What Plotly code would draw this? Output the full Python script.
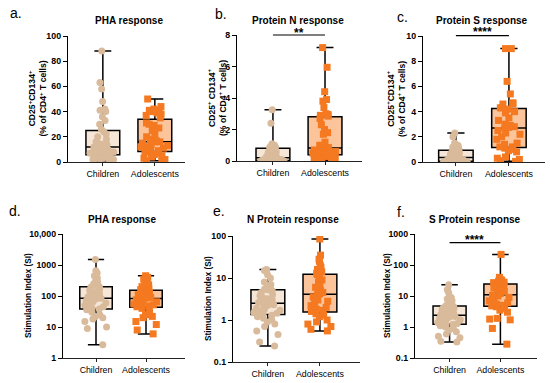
import numpy as np
import plotly.graph_objects as go

# ---------------- data ----------------
groups = ["Children", "Adolescents"]

# a. PHA response, CD25+CD134+ (% of CD4+ T cells)
a_children = [88, 63, 58, 48, 42, 41, 40, 36, 33, 30, 26, 24, 22, 20, 18, 16, 15, 14, 14, 13, 13, 12,
              12, 11, 10, 10, 9, 9, 8, 8, 7, 7, 6, 6, 5.5, 5, 5, 3.5, 3, 3, 2.5, 2, 2, 1.5, 1]
a_adolescents = [50, 44, 42, 41, 41, 40, 39, 38, 37, 35, 31, 30, 29, 27, 25, 22, 20, 18, 17, 16,
                 16, 15, 15, 14, 13, 12, 12, 11, 10, 9, 8, 8, 7, 6, 5, 4, 3, 2, 1, 1]

# b. Protein N response, CD25+CD134+ (% of CD4+ T cells)
b_children = [3.25, 2.4, 1.1, 1.05, 1.0, 0.95, 0.9, 0.9, 0.85, 0.85, 0.82, 0.8, 0.6, 0.55, 0.5, 0.45,
              0.4, 0.35, 0.3, 0.3, 0.25, 0.25, 0.2, 0.2, 0.2, 0.15, 0.15, 0.1, 0.1, 0.1, 0.08, 0.05,
              0.05, 0.04, 0.03, 0.02, 0.02, 0.01, 0.01, 0, 0, 0, 0, 0, 0]
b_adolescents = [7.2, 5.95, 4.4, 3.9, 3.8, 3.4, 3.0, 2.95, 2.9, 2.85, 2.7, 2.3, 2.0, 1.8, 1.7, 1.2,
                 1.0, 0.9, 0.85, 0.85, 0.8, 0.75, 0.7, 0.65, 0.6, 0.55, 0.5, 0.5, 0.45, 0.4, 0.4,
                 0.35, 0.3, 0.3, 0.25, 0.2, 0.2, 0.15, 0.1, 0.05]

# c. Protein S response, CD25+CD134+ (% of CD4+ T cells)
c_children = [2.3, 2.0, 1.5, 1.4, 1.3, 1.2, 1.1, 1.05, 1.0, 1.0, 0.95, 0.9, 0.8, 0.7, 0.65, 0.6,
              0.55, 0.5, 0.45, 0.4, 0.4, 0.35, 0.35, 0.3, 0.3, 0.25, 0.2, 0.2, 0.15, 0.15, 0.1, 0.1,
              0.1, 0.05, 0.05, 0.05, 0.02, 0.02, 0.01, 0, 0, 0, 0, 0, 0]
c_adolescents = [9.0, 9.0, 6.4, 5.4, 4.7, 4.6, 4.6, 4.3, 4.3, 4.2, 4.0, 3.9, 3.5, 3.3, 3.0, 2.9,
                 2.8, 2.75, 2.7, 2.5, 2.3, 2.2, 2.0, 1.8, 1.5, 1.4, 1.2, 1.2, 1.1, 1.0, 0.9, 0.8,
                 0.4, 0.3, 0.2, 0.1, 0.05]

# d. PHA response, Stimulation Index (SI)
d_children = [1500, 650, 550, 450, 380, 320, 280, 250, 230, 210, 200, 190, 170, 150, 140, 130, 120,
              110, 100, 95, 90, 85, 85, 80, 75, 70, 65, 60, 55, 50, 45, 40, 38, 36, 30, 25, 22, 20,
              18, 15, 10, 9, 2.7]
d_adolescents = [450, 400, 350, 300, 260, 230, 200, 170, 160, 150, 140, 130, 120, 115, 110, 100, 95,
                 90, 85, 80, 75, 70, 65, 60, 55, 52, 50, 48, 45, 40, 30, 25, 22, 20, 15, 12, 8, 6]

# e. N Protein response, Stimulation Index (SI)
e_children = [16, 15, 14, 12, 10, 8, 7, 6.5, 6, 5.5, 5.3, 5.2, 5.0, 4.5, 4.0, 3.8, 3.5, 3.2, 3.0,
              2.8, 2.7, 2.6, 2.5, 2.4, 2.3, 2.2, 2.0, 1.9, 1.8, 1.7, 1.6, 1.5, 1.45, 1.4, 1.3, 1.2,
              1.1, 1.0, 0.9, 0.8, 0.7, 0.55, 0.45, 0.3, 0.24]
e_adolescents = [85, 35, 28, 25, 20, 18, 16, 14, 13, 12, 10, 9, 8, 7, 6, 5.5, 5, 4.5, 4.2, 4, 3.5,
                 3, 2.8, 2.5, 2.2, 2.0, 1.8, 1.7, 1.6, 1.4, 1.3, 1.2, 1.0, 0.9, 0.8, 0.7, 0.6, 0.55]

# f. S Protein response, Stimulation Index (SI)
f_children = [23, 16, 13, 10, 9, 8, 7, 6, 5.5, 5, 4.8, 4.7, 4.5, 4.2, 4.0, 3.6, 3.3, 3.0, 2.8, 2.7,
              2.6, 2.5, 2.4, 2.3, 2.2, 2.1, 2.0, 1.9, 1.8, 1.7, 1.5, 1.4, 1.3, 1.25, 1.2, 1.1, 1.0,
              0.9, 0.8, 0.7, 0.6, 0.5, 0.45, 0.35, 0.33]
f_adolescents = [220, 40, 35, 33, 32, 30, 28, 27, 25, 24, 22, 20, 19, 18, 16, 15, 14, 12, 11, 10.5,
                 10, 9, 8, 7, 6, 5.5, 5, 4.8, 4.5, 4, 3.5, 3, 1.9, 1.8, 1.7, 0.9, 0.28]

lin_ticks_a = [0, 20, 40, 60, 80, 100]
lin_ticks_b = [0, 2, 4, 6, 8]
lin_ticks_c = [0, 2, 4, 6, 8, 10]
log_ticks_d = [1, 10, 100, 1000, 10000]
log_labels_d = ["1", "10", "100", "1000", "10,000"]
log_ticks_e = [0.1, 1, 10, 100]
log_labels_e = ["0.1", "1", "10", "100"]
log_ticks_f = [0.1, 1, 10, 100, 1000]
log_labels_f = ["0.1", "1", "10", "100", "1000"]

titles = ["PHA response", "Protein N response", "Protein S response",
          "PHA response", "N Protein response", "S Protein response"]
letters = ["a.", "b.", "c.", "d.", "e.", "f."]

# ---------------- layout helpers ----------------
W, H = 550, 383
FONT = "Liberation Sans, Arial, sans-serif"


def px(x):
    return x / W


def py(y):
    return 1 - y / H


CD_TITLE = "<b>CD25<sup>+</sup>CD134<sup>+</sup><br>(% of CD4<sup>+</sup> T cells)</b>"
CD_TITLE_B = "<b>CD25<sup>+</sup> CD134<sup>+</sup><br>(% of CD4<sup>+</sup> T cells)</b>"
SI_TITLE = "<b>Stimulation Index (SI)</b>"

panels = [
    dict(data=(a_children, a_adolescents), log=False, xd=(68, 185), yd=(36, 162), xr=(-0.67, 1.58),
         yr=(0, 100), tv=lin_ticks_a, tt=[str(v) for v in lin_ticks_a],
         title_xy=(129, 20), letter_xy=(8, 13), yt=CD_TITLE, yt_xy=(37.5, 99), yt_size=8.6, sig=None),
    dict(data=(b_children, b_adolescents), log=False, xd=(237, 362), yd=(35, 161), xr=(-0.69, 1.71),
         yr=(0, 8), tv=lin_ticks_b, tt=[str(v) for v in lin_ticks_b],
         title_xy=(298, 20), letter_xy=(213, 14), yt=CD_TITLE_B, yt_xy=(217, 98), yt_size=8.6,
         sig=("**", 35, 32.5)),
    dict(data=(c_children, c_adolescents), log=False, xd=(423, 545), yd=(36, 162), xr=(-0.62, 1.68),
         yr=(0, 10), tv=lin_ticks_c, tt=[str(v) for v in lin_ticks_c],
         title_xy=(482, 20), letter_xy=(395, 17), yt=CD_TITLE, yt_xy=(396, 99), yt_size=8.6,
         sig=("****", 35.7, 32.3)),
    dict(data=(d_children, d_adolescents), log=True, xd=(63, 185), yd=(234, 358), xr=(-0.66, 1.78),
         yr=(0, 4), tv=log_ticks_d, tt=log_labels_d,
         title_xy=(122, 219), letter_xy=(7, 211), yt=SI_TITLE, yt_xy=(28, 296), yt_size=8.3, sig=None),
    dict(data=(e_children, e_adolescents), log=True, xd=(233, 360), yd=(236, 362), xr=(-0.67, 1.77),
         yr=(-1, 2), tv=log_ticks_e, tt=log_labels_e,
         title_xy=(293, 219), letter_xy=(211, 211), yt=SI_TITLE, yt_xy=(208, 299), yt_size=8.3, sig=None),
    dict(data=(f_children, f_adolescents), log=True, xd=(415, 537), yd=(234, 358), xr=(-0.68, 1.72),
         yr=(-1, 3), tv=log_ticks_f, tt=log_labels_f,
         title_xy=(475, 219), letter_xy=(395, 212), yt=SI_TITLE, yt_xy=(387, 296), yt_size=8.3,
         sig=("****", 242.7, 240.0)),
]

styles = [
    dict(symbol="circle", color="#D9BB9B", fill="#F5E6D7"),
    dict(symbol="square", color="#F47920", fill="#FBC49B"),
]

fig = go.Figure()
annotations = []
shapes = []
layout_axes = {}

for i, p in enumerate(panels, start=1):
    xa, ya = f"x{i}", f"y{i}"
    for name, vals, st in zip(groups, p["data"], styles):
        arr = np.asarray(vals, dtype=float)
        q1, med, q3 = np.percentile(arr, [25, 50, 75], method="weibull")
        fig.add_trace(go.Box(
            x=[name], q1=[q1], median=[med], q3=[q3],
            lowerfence=[arr.min()], upperfence=[arr.max()],
            xaxis=xa, yaxis=ya, boxpoints=False, width=0.65, whiskerwidth=0.5,
            fillcolor=st["fill"], line=dict(color="black", width=1.5),
            hoverinfo="skip", showlegend=False))
        fig.add_trace(go.Box(
            x=[name] * len(vals), y=vals, xaxis=xa, yaxis=ya,
            boxpoints="all", jitter=0.85, pointpos=0, width=0.65, whiskerwidth=0,
            fillcolor="rgba(0,0,0,0)", line=dict(color="rgba(0,0,0,0)", width=0),
            marker=dict(symbol=st["symbol"], color=st["color"], size=7),
            showlegend=False))

    layout_axes[f"xaxis{i}"] = dict(
        domain=[px(p["xd"][0]), px(p["xd"][1])], anchor=ya, type="category",
        categoryorder="array", categoryarray=groups, range=list(p["xr"]),
        showline=True, linecolor="#222", linewidth=1.4, ticks="outside", ticklen=3,
        tickwidth=1.2, tickcolor="#222", showgrid=False, zeroline=False, automargin=False,
        tickfont=dict(family=FONT, size=8.8, color="black"))
    layout_axes[f"yaxis{i}"] = dict(
        domain=[py(p["yd"][1]), py(p["yd"][0])], anchor=xa,
        type="log" if p["log"] else "linear", range=list(p["yr"]),
        tickvals=p["tv"], ticktext=p["tt"],
        showline=True, linecolor="black", linewidth=1.4, ticks="outside", ticklen=4,
        tickwidth=1.4, tickcolor="black", showgrid=False, zeroline=False, automargin=False,
        tickfont=dict(family=FONT, size=8.8, color="black", weight="bold"))

    tx, ty = p["title_xy"]
    annotations.append(dict(text=f"<b>{titles[i-1]}</b>", x=px(tx), y=py(ty), xref="paper", yref="paper",
                            showarrow=False, xanchor="center", yanchor="middle",
                            font=dict(family=FONT, size=10, color="black")))
    lx, ly = p["letter_xy"]
    annotations.append(dict(text=letters[i-1], x=px(lx), y=py(ly), xref="paper", yref="paper",
                            showarrow=False, xanchor="left", yanchor="middle",
                            font=dict(family=FONT, size=14, color="black")))
    yx, yy = p["yt_xy"]
    annotations.append(dict(text=p["yt"], x=px(yx), y=py(yy), xref="paper", yref="paper",
                            showarrow=False, xanchor="center", yanchor="middle", textangle=-90,
                            font=dict(family=FONT, size=p["yt_size"], color="black")))
    if p["sig"]:
        stars, line_y, star_y = p["sig"]
        shapes.append(dict(type="line", xref=xa, yref="paper", x0=0, x1=1,
                           y0=py(line_y), y1=py(line_y), line=dict(color="black", width=1.2)))
        annotations.append(dict(text=f"<b>{stars}</b>", x=0.5, y=py(star_y), xref=xa, yref="paper",
                                showarrow=False, xanchor="center", yanchor="middle",
                                font=dict(family=FONT, size=12, color="black")))

fig.update_layout(
    width=W, height=H, margin=dict(l=0, r=0, t=0, b=0),
    template="none", paper_bgcolor="white", plot_bgcolor="white",
    boxmode="overlay", showlegend=False,
    annotations=annotations, shapes=shapes,
    **layout_axes)

fig.write_html("out.html", config={"displayModeBar": False},
               post_script="document.body.style.margin='0';document.body.style.overflow='hidden';")
